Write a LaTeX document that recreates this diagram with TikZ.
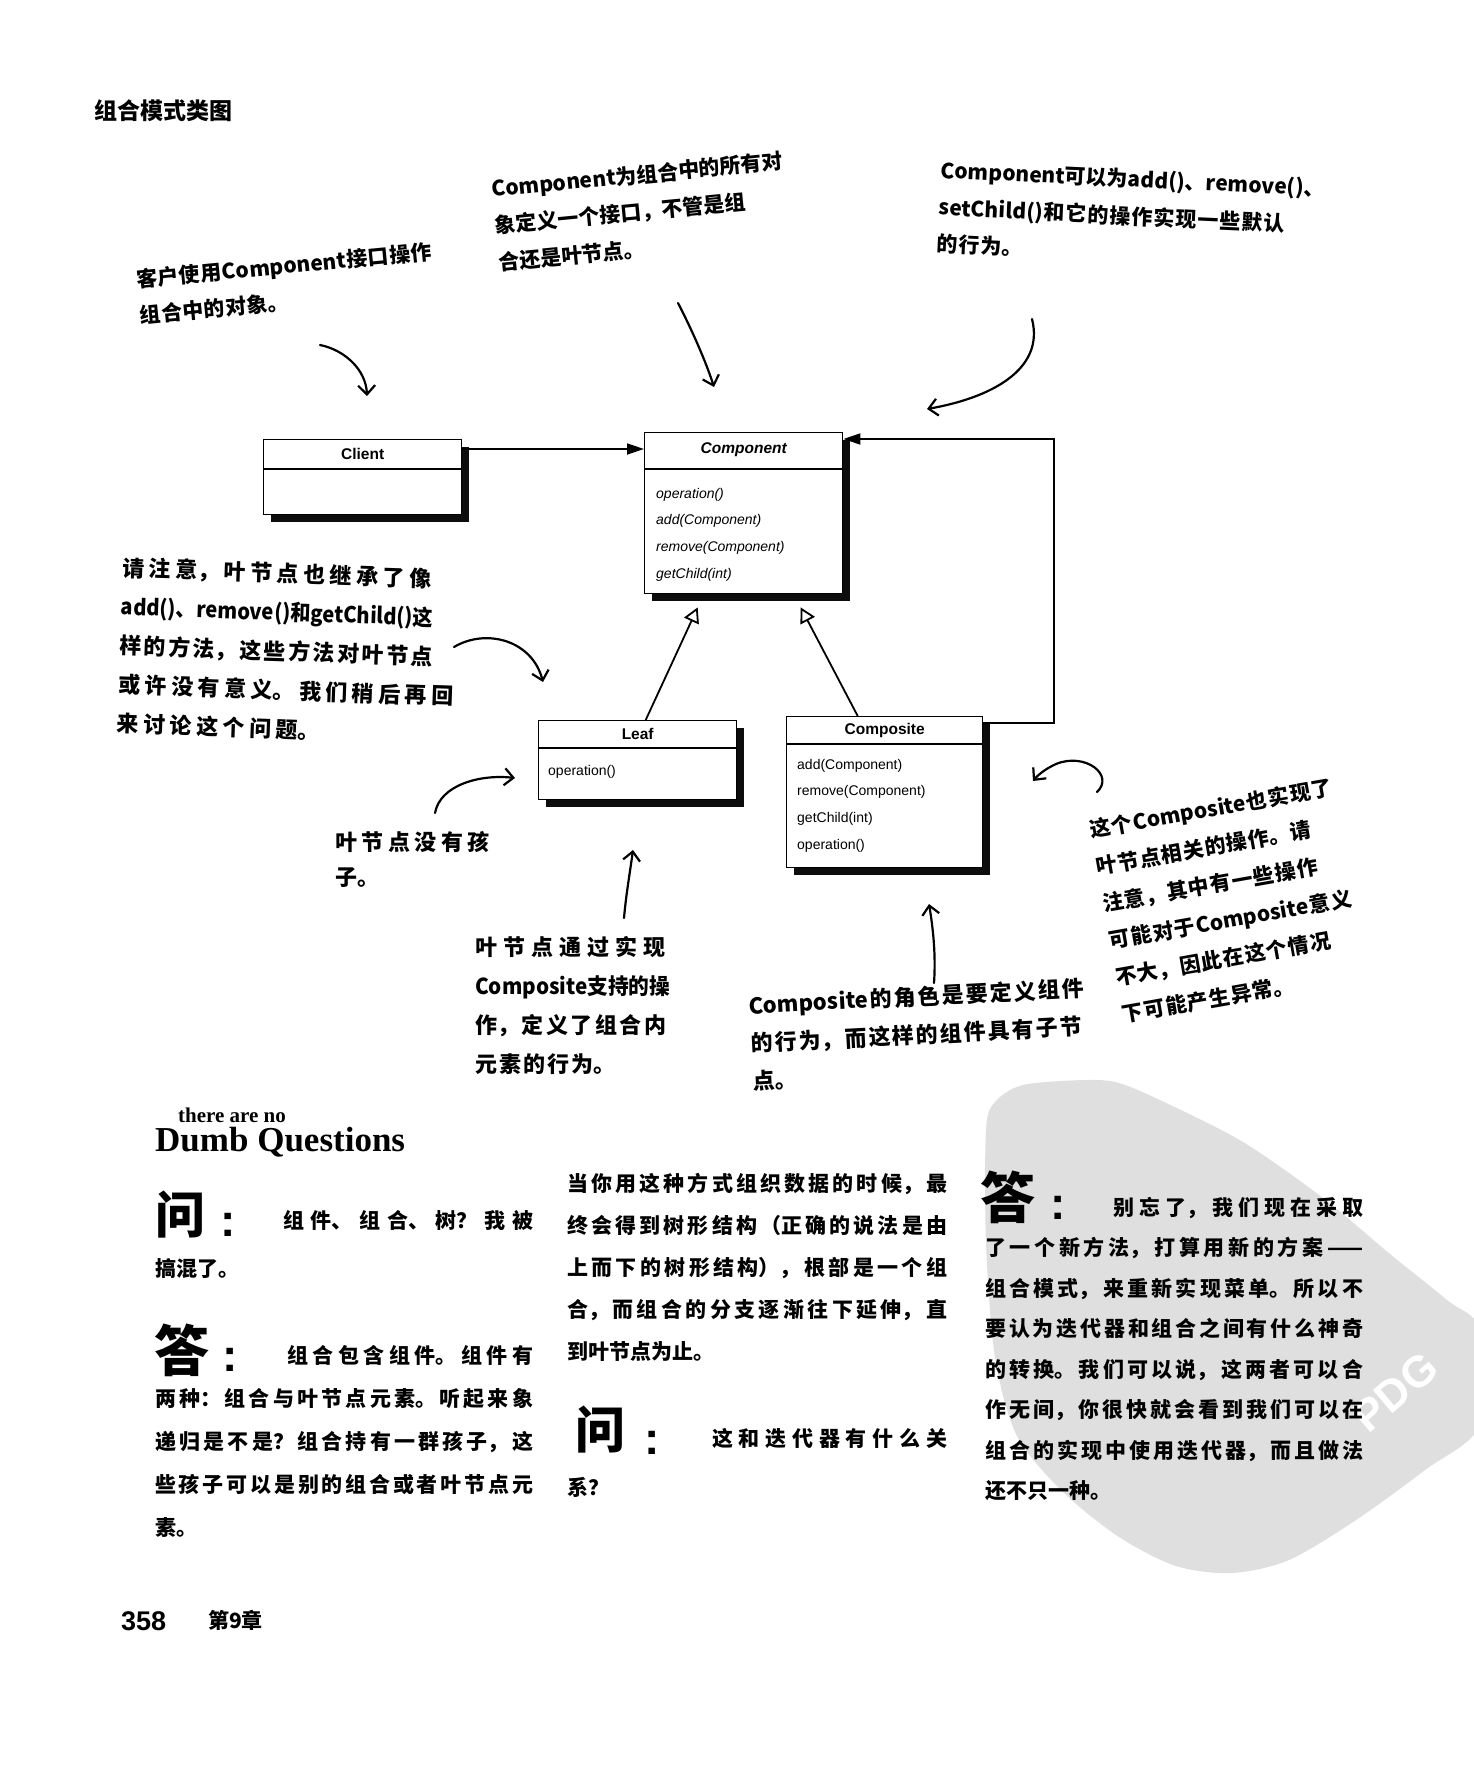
\documentclass[tikz,border=0pt]{standalone}
\usepackage{fontspec}
\newfontfamily\arial{Liberation Sans}
\newfontfamily\tnrfont{Liberation Serif}
\newfontfamily\cjk{Noto Sans CJK SC}
\usetikzlibrary{arrows.meta,shadows,calc}
\XeTeXlinebreaklocale "zh"
\XeTeXlinebreakskip=0pt plus 1pt
% hand-lettered notes: ragged lines, baseline of the first line is the node base
\newcommand\handlines[1]{\begin{minipage}[t]{420pt}\raggedright #1\end{minipage}}
% spacing between hand-lettered characters, changed line by line
\newcommand\gap[1]{\XeTeXlinebreakskip=#1\relax}
% justified column text, forced breaks with \linebreak
\newcommand\colpar[2]{\begin{minipage}[t]{#1}\tolerance=10000\hbadness=10000 #2\end{minipage}}
\newcommand\notefont[3]{\cjk\bfseries\fontsize{#1}{#2}\selectfont\XeTeXlinebreakskip=#3}
\newcommand\bodyfont[1]{\cjk\bfseries\fontsize{21}{#1}\selectfont\XeTeXlinebreakskip=0pt plus 30pt}
\begin{document}
\begin{tikzpicture}[x=1pt,y=-1pt,
  classbox/.style={draw, line width=1.4pt, fill=white, rectangle, inner sep=0pt, anchor=north west,
    drop shadow={shadow xshift=7pt, shadow yshift=-7pt, fill=black, opacity=0.95}},
  sep/.style={line width=1.3pt},
  cname/.style={inner sep=0pt, font=\arial\bfseries\fontsize{15.5}{18}\selectfont},
  meth/.style={inner sep=0pt, anchor=base west, font=\arial\fontsize{14}{16}\selectfont},
  umlline/.style={line width=1.8pt},
  note/.style={inner sep=0pt, anchor=base west},
  hand/.style={line width=2.2pt, line cap=round, line join=round,
    -{Straight Barb[length=9pt,width=17pt]}},
  bigq/.style={inner sep=0pt, font=\cjk\bfseries\fontsize{50}{50}\selectfont},
  biga/.style={inner sep=0pt, font=\cjk\bfseries\fontsize{55}{55}\selectfont},
  qcolon/.style={inner sep=0pt, font=\arial\bfseries\fontsize{46}{46}\selectfont},
  body/.style={inner sep=0pt, anchor=base west},
]
\useasboundingbox (0,0) rectangle (1474,1772);
\fill[white] (0,0) rectangle (1474,1772);

% grey stamp behind the right-hand column
\fill[gray!25] plot[smooth cycle, tension=0.5] coordinates {
  (986,1130) (995,1102) (1023,1085) (1085,1080) (1119,1083) (1164,1102)
  (1243,1142) (1323,1198) (1390,1254) (1447,1300) (1480,1330) (1480,1425)
  (1425,1470) (1356,1520) (1289,1560) (1232,1573) (1176,1566) (1119,1537)
  (1063,1492) (1017,1436) (995,1357) (986,1243)};
\node[white, font=\arial\bfseries\fontsize{44}{44}\selectfont, rotate=40] (stamp) at (1395,1392) {PDG};

% page heading
\node[note, font=\cjk\bfseries\fontsize{23}{26}\selectfont] (title) at (94,119) {组合模式类图};

% ---------------- class diagram ----------------
\node[classbox, minimum width=198pt, minimum height=75pt] (client) at (263,439) {};
\draw[sep] ($(client.north west)+(0,30)$) -- ($(client.north east)+(0,30)$);
\node[cname] (clientname) at ($(client.north)+(0,15)$) {Client};

\node[classbox, minimum width=198pt, minimum height=161pt] (component) at (644,432) {};
\draw[sep] ($(component.north west)+(0,37)$) -- ($(component.north east)+(0,37)$);
\node[cname, font=\arial\bfseries\itshape\fontsize{15.5}{18}\selectfont] (componentname) at ($(component.north)+(0,18)$) {Component};
\node[meth, font=\arial\itshape\fontsize{14}{16}\selectfont] (cm1) at (656,498) {operation()};
\node[meth, font=\arial\itshape\fontsize{14}{16}\selectfont] (cm2) at (656,524) {add(Component)};
\node[meth, font=\arial\itshape\fontsize{14}{16}\selectfont] (cm3) at (656,551) {remove(Component)};
\node[meth, font=\arial\itshape\fontsize{14}{16}\selectfont] (cm4) at (656,578) {getChild(int)};

\node[classbox, minimum width=198pt, minimum height=79pt] (leaf) at (538,720) {};
\draw[sep] ($(leaf.north west)+(0,28)$) -- ($(leaf.north east)+(0,28)$);
\node[cname] (leafname) at ($(leaf.north)+(0,14)$) {Leaf};
\node[meth] (lm1) at (548,775) {operation()};

\node[classbox, minimum width=196pt, minimum height=151pt] (composite) at (786,716) {};
\draw[sep] ($(composite.north west)+(0,28)$) -- ($(composite.north east)+(0,28)$);
\node[cname] (compositename) at ($(composite.north)+(0,14)$) {Composite};
\node[meth] (pm1) at (797,769) {add(Component)};
\node[meth] (pm2) at (797,795) {remove(Component)};
\node[meth] (pm3) at (797,822) {getChild(int)};
\node[meth] (pm4) at (797,849) {operation()};

\coordinate (rowA) at (0,449);
\coordinate (rowB) at (0,723);
\coordinate (rowC) at (0,439);
\coordinate (colR) at (1054,0);
\draw[umlline, -{Triangle[length=17pt,width=11pt]}] (client.east |- rowA) -- (component.west |- rowA);
\draw[umlline, -{Triangle[length=17pt,width=11pt]}] (composite.east |- rowB) -- (colR |- rowB) -- (colR |- rowC) -- (component.east |- rowC);
\draw[umlline, -{Triangle[open,fill=white,length=15pt,width=16pt]}] ($(leaf.north)+(8,0)$) -- ($(component.south)+(-46,13)$);
\draw[umlline, -{Triangle[open,fill=white,length=15pt,width=16pt]}] ($(composite.north)+(-27,0)$) -- ($(component.south)+(57,13)$);

% ---------------- hand-lettered notes ----------------
\node[note, rotate=5.5, font=\notefont{21}{36}{0.5pt}] (n1) at (137,288)
  {\handlines{客户使用Component接口操作\\组合中的对象。}};
\node[note, rotate=5.5, font=\notefont{21}{37}{0pt}] (n2) at (492,197)
  {\handlines{Component为组合中的所有对\\象定义一个接口，不管是组\\合还是叶节点。}};
\node[note, rotate=-2.7, font=\notefont{21}{37}{0pt}] (n3) at (940,178)
  {\handlines{Component可以为add()、remove()、\\\gap{1pt}setChild()和它的操作实现一些默认\\的行为。}};
\node[note, rotate=-2, font=\notefont{22}{39}{4.5pt}] (n4) at (122,576)
  {\handlines{请注意，叶节点也继承了像\\\scalebox{0.92}[1]{add()、remove()和getChild()这}\\\gap{2.5pt}样的方法，这些方法对叶节点\\\gap{4.5pt}或许没有意义。我们稍后再回\\来讨论这个问题。}};
\node[note, font=\notefont{22}{35}{4.5pt}] (n5) at (335,850)
  {\handlines{叶节点没有孩\\子。}};
\node[note, font=\notefont{22}{39}{6pt}] (n6) at (475,955)
  {\handlines{叶节点通过实现\\\scalebox{0.94}[1]{Composite支持的操}\\\gap{2.5pt}作，定义了组合内\\\gap{2pt}元素的行为。}};
\node[note, rotate=3, font=\notefont{22}{38}{2pt}] (n7) at (749,1014)
  {\handlines{Composite的角色是要定义组件\\的行为，而这样的组件具有子节\\点。}};
\node[note, rotate=10, font=\notefont{21}{37.5}{1pt}] (n8) at (1091,838)
  {\handlines{这个Composite也实现了\\叶节点相关的操作。请\\注意，其中有一些操作\\可能对于Composite意义\\不大，因此在这个情况\\下可能产生异常。}};

% pointers from the notes
\coordinate (p1) at (320,345);  \coordinate (q1) at (367,396);
\coordinate (p2) at (678,303);  \coordinate (q2) at (714,387);
\coordinate (p3) at (1032,319); \coordinate (q3) at (927,409);
\coordinate (p4) at (454,647);  \coordinate (q4) at (543,682);
\coordinate (p5) at (435,813);  \coordinate (q5) at (515,778);
\coordinate (p6) at (624,918);  \coordinate (q6) at (633,850);
\coordinate (p7) at (934,983);  \coordinate (q7) at (929,904);
\coordinate (p8) at (1097,792); \coordinate (q8) at (1033,781);
\draw[hand] (p1) .. controls (345,350) and (366,370) .. (q1);
\draw[hand] (p2) .. controls (692,330) and (706,362) .. (q2);
\draw[hand] (p3) .. controls (1045,370) and (990,398) .. (q3);
\draw[hand] (p4) .. controls (486,628) and (532,640) .. (q4);
\draw[hand] (p5) .. controls (440,785) and (480,774) .. (q5);
\draw[hand] (p6) .. controls (626,895) and (630,872) .. (q6);
\draw[hand] (p7) .. controls (936,955) and (933,928) .. (q7);
\draw[hand] (p8) .. controls (1115,775) and (1085,752) .. (1056,764) .. controls (1045,769) and (1038,775) .. (q8);

% ---------------- question and answer columns ----------------
\node[inner sep=0pt, anchor=base west] (dumbsmall) at (178,1122) {\tnrfont\bfseries\fontsize{21}{21}\selectfont there are no};
\node[inner sep=0pt, anchor=base west] (dumb) at (155,1151) {\tnrfont\bfseries\fontsize{35}{35}\selectfont Dumb Questions};

\node[bigq] (qa) at (180,1215) {问};
\node[qcolon] (qac) at (228,1225) {:};
\node[body] (qatext) at (155,1228) {\colpar{378pt}{\bodyfont{48}\hspace*{128pt}组件、组合、树？我被\linebreak 搞混了。}};

\node[biga] (aa) at (182,1350) {答};
\node[qcolon] (aac) at (230,1360) {:};
\node[body] (aatext) at (155,1363) {\colpar{378pt}{\bodyfont{43}\hspace*{132pt}组合包含组件。组件有\linebreak 两种：组合与叶节点元素。听起来象\linebreak 递归是不是？组合持有一群孩子，这\linebreak 些孩子可以是别的组合或者叶节点元\linebreak 素。}};

\node[body] (mtext) at (567,1191) {\colpar{380pt}{\bodyfont{42}当你用这种方式组织数据的时候，最\linebreak 终会得到树形结构（正确的说法是由\linebreak 上而下的树形结构），根部是一个组\linebreak 合，而组合的分支逐渐往下延伸，直\linebreak 到叶节点为止。}};

\node[bigq] (qb) at (600,1430) {问};
\node[qcolon] (qbc) at (652,1443) {:};
\node[body] (qbtext) at (567,1446) {\colpar{380pt}{\bodyfont{49}\hspace*{145pt}这和迭代器有什么关\linebreak 系？}};

\node[biga] (ab) at (1008,1197) {答};
\node[qcolon] (abc) at (1058,1208) {:};
\node[body] (abtext) at (985,1215) {\colpar{378pt}{\bodyfont{40.5}\hspace*{128pt}别忘了，我们现在采取\linebreak 了一个新方法，打算用新的方案——\linebreak 组合模式，来重新实现菜单。所以不\linebreak 要认为迭代器和组合之间有什么神奇\linebreak 的转换。我们可以说，这两者可以合\linebreak 作无间，你很快就会看到我们可以在\linebreak 组合的实现中使用迭代器，而且做法\linebreak 还不只一种。}};

% page footer
\node[note, font=\arial\bfseries\fontsize{27}{30}\selectfont] (pageno) at (121,1630) {358};
\node[note, font=\cjk\bfseries\fontsize{21}{24}\selectfont] (chapter) at (208,1628) {第9章};
\end{tikzpicture}
\end{document}
